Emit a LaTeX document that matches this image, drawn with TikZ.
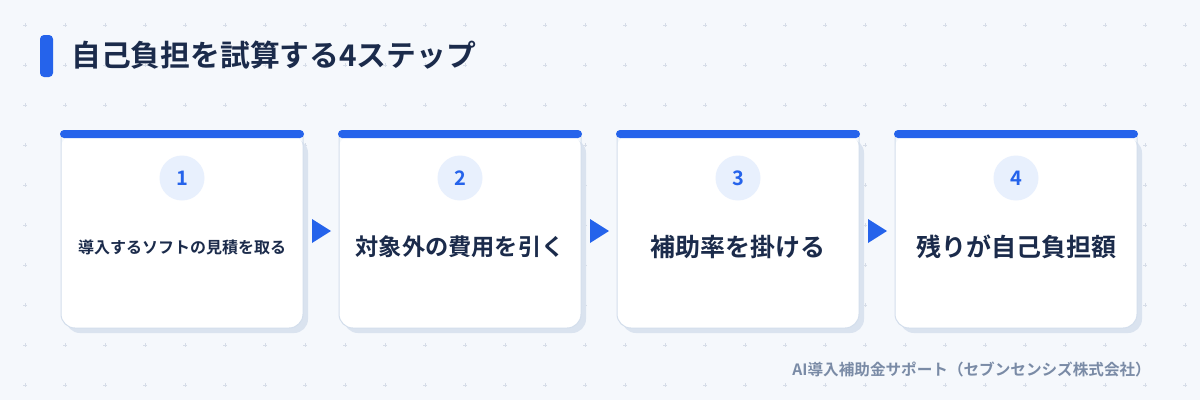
\documentclass[tikz,border=0pt]{standalone}
\usepackage{fontspec}
\newfontfamily\jp{Noto Sans CJK JP}
\newfontfamily\jpb{Noto Sans CJK JP Bold}
\definecolor{bg}{HTML}{F5F8FC}
\definecolor{dotc}{HTML}{D6DDE8}
\definecolor{accent}{HTML}{2563EB}
\definecolor{navy}{HTML}{1B2B4B}
\definecolor{cardline}{HTML}{D3DEEC}
\definecolor{shadowc}{HTML}{DAE3EF}
\definecolor{circ}{HTML}{E8F0FD}
\definecolor{foot}{HTML}{7A8BA6}
\tikzset{
  dotmark/.style={draw=dotc,line width=0.9pt},
  cardbody/.style={draw=cardline,line width=1pt,rounded corners=14pt},
  cardshadow/.style={fill=shadowc,rounded corners=14pt},
  topbar/.style={fill=accent,rounded corners=4pt},
  numcirc/.style={circle,fill=circ,minimum size=45pt,inner sep=0pt,text=accent,font=\jpb\fontsize{20}{20}\selectfont},
  steptext/.style={text=navy,font=\jpb\fontsize{25}{28}\selectfont,inner sep=0pt},
  midtext/.style={text=navy,font=\jpb\fontsize{23.2}{26}\selectfont,inner sep=0pt},
  smalltext/.style={text=navy,font=\jpb\fontsize{16}{18}\selectfont,inner sep=0pt},
  flowarrow/.style={fill=accent},
}
\begin{document}
\begin{tikzpicture}[x=1pt,y=-1pt]
\useasboundingbox (0,0) rectangle (1200,400);
\fill[bg] (0,0) rectangle (1200,400);
\foreach \i in {0,...,29}{
  \foreach \j in {0,...,9}{
    \draw[dotmark] ({25+40*\i-2},{25+40*\j}) -- ({25+40*\i+2},{25+40*\j});
    \draw[dotmark] ({25+40*\i},{25+40*\j-2}) -- ({25+40*\i},{25+40*\j+2});
  }
}
% title
\fill[accent,rounded corners=4pt] (40,35) rectangle (53,77);
\node[anchor=west,text=navy,inner sep=0pt,font=\jpb\fontsize{29.8}{32}\selectfont] (title) at (71,55) {自己負担を試算する4ステップ};
% cards
\foreach \k/\t/\s in {1/{導入するソフトの見積を取る}/smalltext,2/{対象外の費用を引く}/midtext,3/{補助率を掛ける}/steptext,4/{残りが自己負担額}/steptext}{
  \pgfmathsetmacro{\xl}{61+278*(\k-1)}
  \pgfmathsetmacro{\xr}{\xl+242}
  \pgfmathsetmacro{\xc}{\xl+121}
  \fill[cardshadow] ({\xl+5},139) rectangle ({\xr+5},333);
  \fill[white,rounded corners=14pt] (\xl,134) -- (\xl,328) -- (\xr,328) -- (\xr,134) -- cycle;
  \draw[cardbody] (\xl,134) -- (\xl,328) -- (\xr,328) -- (\xr,134);
  \fill[topbar] ({\xl-1},130) rectangle ({\xr+1},138);
  \node[numcirc] (n\k) at (\xc,178) {\k};
  \node[\s] (t\k) at (\xc,247) {\t};
}
% arrows
\foreach \k in {1,2,3}{
  \pgfmathsetmacro{\ax}{312+278*(\k-1)}
  \fill[flowarrow] (\ax,219) -- ({\ax+19},231) -- (\ax,243) -- cycle;
}
\node[anchor=east,text=foot,inner sep=0pt,font=\jpb\fontsize{15.6}{17}\selectfont] (footer) at (1151,370) {AI導入補助金サポート（セブンセンシズ株式会社）};
\end{tikzpicture}
\end{document}
